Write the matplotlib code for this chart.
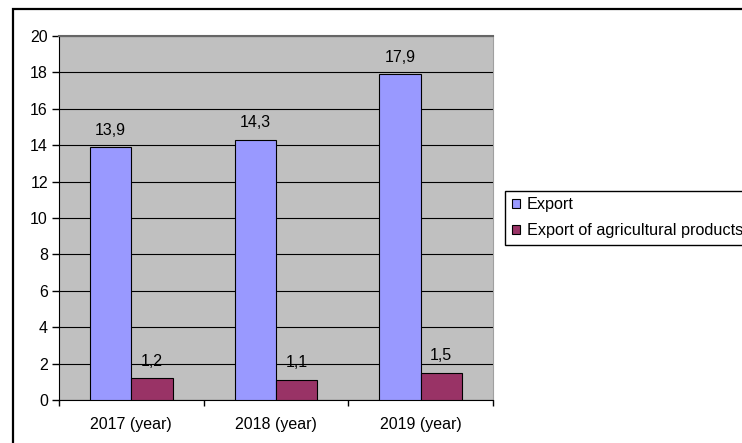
import numpy as np
import matplotlib.pyplot as plt
from matplotlib.patches import Rectangle

plt.rcParams['font.family'] = ['Liberation Sans', 'DejaVu Sans']

years = ['2017 (year)', '2018 (year)', '2019 (year)']
export = [13.9, 14.3, 17.9]
export_agri = [1.2, 1.1, 1.5]
series_names = ['Export', 'Export of agricultural products']

W, H = 742, 443
FS = 11.5
fig = plt.figure(figsize=(W / 100, H / 100), dpi=100)
fig.patch.set_facecolor('white')

# outer frame (runs off the right and bottom of the image)
fig.patches.append(Rectangle((13 / W, -0.1), 1.2, 1 - 8.5 / H + 0.1,
                             transform=fig.transFigure, fill=False,
                             edgecolor='black', linewidth=1.6))

ax = fig.add_axes([59 / W, (H - 400) / H, (493 - 59) / W, (400 - 36) / H])
ax.set_facecolor('#c0c0c0')

x = np.arange(len(years))
bw = 0.285
b1 = ax.bar(x - bw / 2, export, bw, color='#9999ff', edgecolor='black',
            linewidth=0.8, label=series_names[0], zorder=3)
b2 = ax.bar(x + bw / 2, export_agri, bw, color='#993366', edgecolor='black',
            linewidth=0.8, label=series_names[1], zorder=3)

for bars, vals in ((b1, export), (b2, export_agri)):
    for rect, v in zip(bars, vals):
        ax.annotate(f'{v:.1f}'.replace('.', ','),
                    (rect.get_x() + rect.get_width() / 2, v),
                    xytext=(0, 9), textcoords='offset points',
                    ha='center', va='baseline', fontsize=FS, zorder=4)

ax.set_ylim(0, 20)
ax.set_yticks(np.arange(0, 21, 2))
ax.set_xlim(-0.5, len(years) - 0.5)
ax.set_xticks(np.arange(-0.5, len(years)))
ax.set_xticklabels([])
ax.set_xticks(x, minor=True)
ax.set_xticklabels(years, minor=True)
ax.tick_params(axis='x', which='major', length=4, width=1, direction='out')
ax.tick_params(axis='x', which='minor', length=0, pad=12, labelsize=FS)
ax.tick_params(axis='y', length=5, width=1, pad=3, labelsize=FS)

ax.yaxis.grid(True, color='black', linewidth=0.8, zorder=1)
ax.set_axisbelow(True)

ax.spines['left'].set_color('black')
ax.spines['bottom'].set_color('black')
ax.spines['top'].set_color('#666666')
ax.spines['top'].set_linewidth(1.5)
ax.spines['right'].set_color('#a0a0a0')

fig.legend(handles=[b1, b2], loc='upper left',
           bbox_to_anchor=(505 / W, 1 - 190.5 / H), fontsize=11.7,
           frameon=True, fancybox=False, edgecolor='black', framealpha=1,
           handlelength=0.47, handleheight=0.47, handletextpad=0.45,
           labelspacing=0.64, borderpad=0.43, borderaxespad=0)

fig.savefig('out.png', dpi=100)
